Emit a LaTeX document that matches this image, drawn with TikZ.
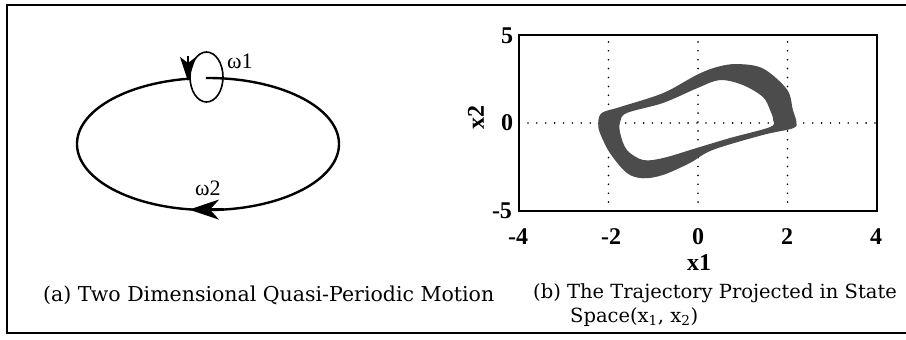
\documentclass[tikz,border=0pt]{standalone}
\usepackage{fontspec}
\setmainfont{Liberation Serif}
\newfontfamily\capfont{DejaVu Serif}
\usetikzlibrary{arrows.meta,positioning}

\begin{document}
\begin{tikzpicture}[x=1pt, y=-1pt,
    frame/.style={line width=1.5pt},
    orbit/.style={line width=2.4pt},
    bighead/.style={-{Stealth[length=30pt, width=20pt, inset=9pt]}, line width=2.4pt},
    smallhead/.style={-{Stealth[length=24pt, width=16pt, inset=6pt]}, line width=1.6pt},
    gridline/.style={line width=1.8pt, line cap=round, dash pattern=on 0pt off 8.9pt},
    ticklbl/.style={font=\fontsize{24}{27}\selectfont\bfseries, inner sep=0pt},
    captxt/.style={font=\capfont\fontsize{19.5}{22}\selectfont, inner sep=0pt, anchor=base west},
    omega/.style={font=\fontsize{22}{24}\selectfont, inner sep=0pt, anchor=base west}
]
\useasboundingbox (0,0) rectangle (906,340);

% --- frame (open on the right) ---
\draw[frame] (906,5) -- (7,5) -- (7,333) -- (906,333);

% --- (a) quasi-periodic motion ---
\draw[orbit] (208,144) ++(269.1:131 and 66)
    arc[start angle=269.1, end angle=622.1, x radius=131, y radius=66];
\draw[line width=1.6pt] (206.5,77) ellipse [x radius=16.5, y radius=25];
\draw[smallhead] (188,56) -- (188,81);
\draw[bighead] (224,209.6) -- (189,209.6);
\node[omega] (w1) at (227,68) {ω1};
\node[omega] (w2) at (195,195) {ω2};

\node[captxt, font=\capfont\fontsize{20.5}{23}\selectfont] (capa) at (43,301)
    {(a) Two Dimensional Quasi-Periodic Motion};

% --- (b) state space plot ---
\begin{scope}[shift={(698,123)}, x=44.75pt, y=17.6pt]
  \foreach \gx in {-2,0,2}
    \draw[gridline] (\gx,-5) -- (\gx,5);
  \draw[gridline] (-4,0) -- (4,0);
  % trajectory band
  \fill[black!70, even odd rule]
    plot[smooth cycle, tension=0.55] coordinates {
      (-2.23,0.0) (-2.15,0.57) (-1.74,0.91) (-0.78,1.70) (-0.03,2.73)
      (0.42,3.18) (0.87,3.35) (1.45,3.1) (1.99,1.9) (2.12,0.74)
      (2.2,0.05) (2.12,-0.3) (1.45,-0.68) (0.33,-1.53) (-0.18,-2.27)
      (-0.78,-2.95) (-1.23,-3.14) (-1.59,-2.84) (-1.97,-1.7) (-2.19,-0.57)}
    plot[smooth cycle, tension=0.55] coordinates {
      (-1.74,0.06) (-1.59,0.57) (-0.78,1.14) (0,2.0) (0.49,2.44)
      (1.0,2.16) (1.45,1.48) (1.61,0.74) (1.68,0.17) (1.61,-0.23)
      (0.72,-0.85) (-0.03,-1.42) (-0.78,-1.99) (-1.23,-2.1) (-1.59,-1.53)
      (-1.74,-0.57)};
  \draw[frame] (-4,-5) rectangle (4,5);
\end{scope}

% tick labels
\node[ticklbl] (y5)  at (507,36)  {5};
\node[ticklbl] (y0)  at (507,123) {0};
\node[ticklbl] (ym5) at (502,211) {-5};
\node[ticklbl] (xm4) at (518,237) {-4};
\node[ticklbl] (xm2) at (611,237) {-2};
\node[ticklbl] (x0)  at (698,237) {0};
\node[ticklbl] (x2)  at (787,237) {2};
\node[ticklbl] (x4)  at (876,237) {4};
\node[ticklbl] (xlbl) at (699,263) {x1};
\node[ticklbl, rotate=90] (ylbl) at (476,117) {x2};

\node[captxt] (capb1) at (533,298) {(b) The Trajectory Projected in State};
\node[captxt] (capb2) at (570,322) {Space(x\textsubscript{1}, x\textsubscript{2})};

\end{tikzpicture}
\end{document}
